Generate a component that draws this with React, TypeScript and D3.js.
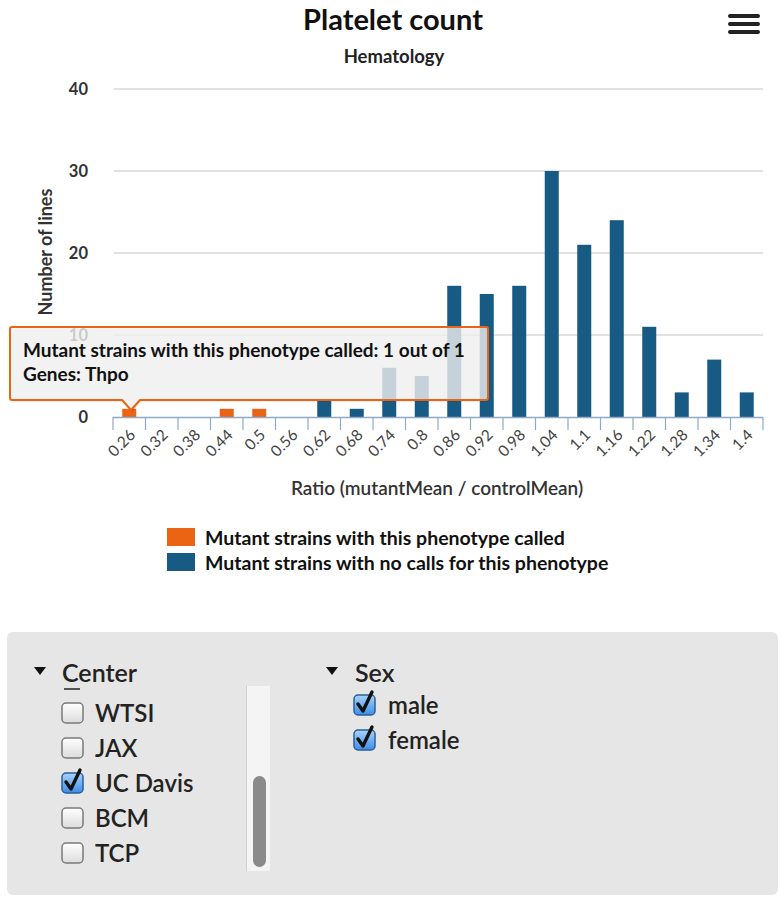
import React from "react";
import * as d3 from "d3";

const categories = ["0.26","0.32","0.38","0.44","0.5","0.56","0.62","0.68","0.74","0.8","0.86","0.92","0.98","1.04","1.1","1.16","1.22","1.28","1.34","1.4"];
const calledValues = [1,0,0,1,1,0,0,0,0,0,0,0,0,0,0,0,0,0,0,0];
const notCalledValues = [0,0,0,0,0,0,2,1,6,5,16,15,16,30,21,24,11,3,7,3];
const yTicks = [0,10,20,30,40];
const centers = ["WTSI","JAX","UC Davis","BCM","TCP"];
const centerChecked = [false,false,true,false,false];
const sexes = ["male","female"];
const sexChecked = [true,true];

const ORANGE = "#ea6414";
const BLUE = "#175a83";
const FONT = "Lato, 'Open Sans', sans-serif";

function CheckBox({ x, y, checked }: { x: number; y: number; checked: boolean }) {
  return (
    <g transform={`translate(${x},${y})`}>
      <defs>
        <linearGradient id="cbw" x1="0" y1="0" x2="0" y2="1">
          <stop offset="0" stopColor="#ffffff" />
          <stop offset="1" stopColor="#dcdcdc" />
        </linearGradient>
        <linearGradient id="cbb" x1="0" y1="0" x2="0" y2="1">
          <stop offset="0" stopColor="#a9d3fb" />
          <stop offset="1" stopColor="#3c8ee6" />
        </linearGradient>
      </defs>
      <rect x={0} y={0} width={21} height={20} rx={4} fill={checked ? "url(#cbb)" : "url(#cbw)"} stroke={checked ? "#2b5f9a" : "#7a7a7a"} strokeWidth={1.5} />
      {checked && (
        <path d="M4,9 L9,16 L18,-3" fill="none" stroke="#111" strokeWidth={3.4} strokeLinecap="round" strokeLinejoin="round" />
      )}
    </g>
  );
}

export default function App() {
  const W = 784, H = 909;
  const x = d3.scaleBand<string>().domain(categories).range([113, 763]).paddingInner(0).paddingOuter(0);
  const y = d3.scaleLinear().domain([0, 40]).range([417, 89]);
  const step = x.step();
  const bw = 14;

  const tipPath = "M12,327 L486,327 Q488,327 488,329 L488,398 Q488,400 486,400 L140,400 L131,410 L122,400 L12,400 Q10,400 10,398 L10,329 Q10,327 12,327 Z";

  return (
    <svg width={W} height={H} style={{ position: "absolute", left: 0, top: 0 }} fontFamily={FONT}>
      <rect width={W} height={H} fill="#fff" />
      {/* Title */}
      <text x={393} y={30} textAnchor="middle" fontSize={29} fontWeight={700} fill="#111">Platelet count</text>
      <text x={394} y={63} textAnchor="middle" fontSize={18.5} fontWeight={700} fill="#222">Hematology</text>
      {/* Hamburger */}
      {[16, 24, 32].map((yy) => (
        <line key={yy} x1={730} x2={758} y1={yy} y2={yy} stroke="#222" strokeWidth={4} strokeLinecap="round" />
      ))}
      {/* Gridlines */}
      {yTicks.map((t) => (
        <g key={t}>
          {t > 0 && <line x1={114} x2={763} y1={y(t)} y2={y(t)} stroke="#c4c4c4" strokeWidth={1} />}
          <text x={88} y={y(t) + 6} textAnchor="end" fontSize={16.5} fontWeight={700} fill="#333">{t}</text>
        </g>
      ))}
      {/* Y title */}
      <text transform="translate(52,252) rotate(-90)" textAnchor="middle" fontSize={18} fontWeight={700} fill="#333">Number of lines</text>
      {/* Bars */}
      {categories.map((c, i) => {
        const cx = (x(c) as number) + step / 2;
        return (
          <g key={c}>
            {calledValues[i] > 0 && (
              <rect x={cx - bw / 2} y={y(calledValues[i])} width={bw} height={y(0) - y(calledValues[i])} fill={ORANGE} />
            )}
            {notCalledValues[i] > 0 && (
              <rect x={cx - bw / 2} y={y(notCalledValues[i])} width={bw} height={y(0) - y(notCalledValues[i])} fill={BLUE} />
            )}
          </g>
        );
      })}
      {/* X axis */}
      <line x1={113} x2={763} y1={417.5} y2={417.5} stroke="#8fa9c6" strokeWidth={1.5} />
      {categories.concat(["end"]).map((c, i) => {
        const tx = 113 + i * step;
        return <line key={"t" + i} x1={tx} x2={tx} y1={417} y2={430} stroke="#8fa9c6" strokeWidth={1.2} />;
      })}
      {categories.map((c) => {
        const cx = (x(c) as number) + step / 2;
        return (
          <text key={"l" + c} transform={`translate(${cx + 7},${436}) rotate(-45)`} textAnchor="end" fontSize={15.5} fill="#444">{c}</text>
        );
      })}
      <text x={437} y={495} textAnchor="middle" fontSize={19} fontWeight={600} fill="#333">Ratio (mutantMean / controlMean)</text>
      {/* Legend */}
      <rect x={167} y={528} width={28} height={18} fill={ORANGE} />
      <text x={205} y={545} fontSize={19.5} fontWeight={700} fill="#111">Mutant strains with this phenotype called</text>
      <rect x={167} y={553} width={28} height={18} fill={BLUE} />
      <text x={205} y={570} fontSize={19.5} fontWeight={700} fill="#111">Mutant strains with no calls for this phenotype</text>
      {/* Tooltip */}
      <path d={tipPath} transform="translate(1.5,1.5)" fill="rgba(0,0,0,0.12)" />
      <path d={tipPath} fill="rgba(247,247,247,0.78)" stroke={ORANGE} strokeWidth={2} />
      <text x={23} y={357} fontSize={19} fontWeight={700} fill="#111">Mutant strains with this phenotype called: 1 out of 1</text>
      <text x={23} y={381} fontSize={19} fontWeight={700} fill="#111">Genes: Thpo</text>
      {/* Filter panel */}
      <rect x={7} y={632} width={771} height={263} rx={6} fill="#e6e6e6" />
      <path d="M34,667 L46,667 L40,675 Z" fill="#111" />
      <text x={62} y={682} fontSize={25} fontWeight={600} fill="#222">Center</text>
      <line x1={64} x2={80} y1={689} y2={689} stroke="#555" strokeWidth={2} />
      {centers.map((c, i) => (
        <g key={c}>
          <CheckBox x={62} y={703 + i * 35} checked={centerChecked[i]} />
          <text x={95} y={722 + i * 35} fontSize={24} fontWeight={600} fill="#222">{c}</text>
        </g>
      ))}
      <rect x={246} y={686} width={24} height={185} fill="#f4f4f4" />
      <line x1={246.5} x2={246.5} y1={686} y2={871} stroke="#d0d0d0" />
      <rect x={253} y={776} width={13} height={91} rx={6.5} fill="#8a8a8a" />
      <path d="M326,667 L338,667 L332,675 Z" fill="#111" />
      <text x={355} y={682} fontSize={25} fontWeight={600} fill="#222">Sex</text>
      {sexes.map((s, i) => (
        <g key={s}>
          <CheckBox x={354} y={695 + i * 35} checked={sexChecked[i]} />
          <text x={388} y={714 + i * 35} fontSize={24} fontWeight={600} fill="#222">{s}</text>
        </g>
      ))}
    </svg>
  );
}
